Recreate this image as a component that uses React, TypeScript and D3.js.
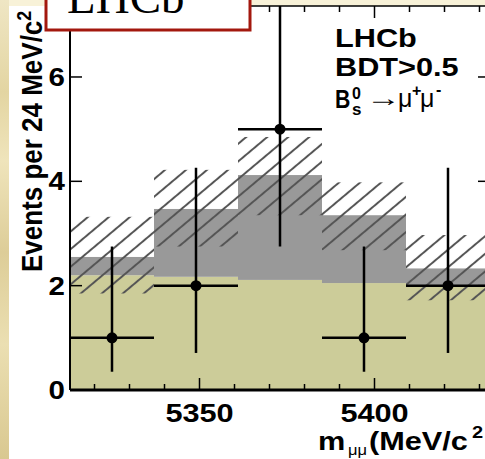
import React from "react";
import * as d3 from "d3";

// ---- data ----
const binEdges = [5313, 5337, 5361, 5385, 5409, 5433];
const backgroundYield = [2.2, 2.17, 2.11, 2.05, 2.01];
const totalYield = [2.55, 3.47, 4.12, 3.35, 2.33];
const bandLow = [1.85, 2.75, 3.35, 2.68, 1.72];
const bandHigh = [3.32, 4.22, 4.85, 3.98, 2.97];
const observed = [1, 2, 5, 1, 2];
const observedLow = [0.35, 0.71, 2.75, 0.35, 0.71];
const observedHigh = [2.75, 4.26, 8.4, 2.75, 4.26];
const xMajorTicks = [5350, 5400];
const xMinorTicks = [5320, 5330, 5340, 5360, 5370, 5380, 5390, 5410, 5420, 5430];
const yMajorTicks = [0, 2, 4, 6];

const W = 485;
const H = 459;
const SX = 1.18; // horizontal stretch of the reference text
const FONT = "'Liberation Sans', Arial, Helvetica, sans-serif";

function T({ x, y, size = 25, anchor = "start", weight = "bold", sx = SX, family = FONT, children }: any) {
  return (
    <text
      transform={`translate(${x},${y}) scale(${sx},1)`}
      textAnchor={anchor}
      fontFamily={family}
      fontWeight={weight}
      fontSize={size}
      fill="#000"
    >
      {children}
    </text>
  );
}

export default function App() {
  const left = 70;
  const right = 490;
  const top = 6;
  const bottom = 390;
  const x = d3.scaleLinear().domain([binEdges[0], binEdges[binEdges.length - 1]]).range([left, right]);
  const y = d3.scaleLinear().domain([0, (bottom - top) / 52.17]).range([bottom, top]);
  const bins = d3.range(observed.length);

  return (
    <svg
      width={W}
      height={H}
      style={{ position: "absolute", left: 0, top: 0, display: "block" }}
      xmlns="http://www.w3.org/2000/svg"
    >
      <defs>
        <linearGradient id="parch" x1="0" y1="0" x2="0" y2="1">
          <stop offset="0" stopColor="#efe6c4" />
          <stop offset="0.2" stopColor="#e3d5a2" />
          <stop offset="0.35" stopColor="#efe4bb" />
          <stop offset="0.55" stopColor="#ddcd98" />
          <stop offset="0.75" stopColor="#ebdfb2" />
          <stop offset="1" stopColor="#d9c890" />
        </linearGradient>
        <pattern
          id="hatch"
          patternUnits="userSpaceOnUse"
          width={10}
          height={13.5}
          patternTransform="rotate(-40)"
        >
          <line x1={-1} y1={6.75} x2={11} y2={6.75} stroke="#555" strokeWidth={2} />
        </pattern>
        <clipPath id="plotClip">
          <rect x={left} y={top} width={right - left} height={bottom - top} />
        </clipPath>
      </defs>

      {/* page background */}
      <rect x={0} y={0} width={W} height={H} fill="#fff" />
      <rect x={0} y={0} width={W} height={top} fill="#f8f2d8" />
      <rect x={0} y={0} width={9} height={H} fill="url(#parch)" />

      <g clipPath="url(#plotClip)">
        {/* background component */}
        {bins.map((i) => (
          <rect
            key={"bg" + i}
            x={x(binEdges[i])}
            y={y(backgroundYield[i])}
            width={x(binEdges[i + 1]) - x(binEdges[i])}
            height={y(0) - y(backgroundYield[i])}
            fill="#cccc99"
          />
        ))}
        {/* signal on top */}
        {bins.map((i) => (
          <rect
            key={"sig" + i}
            x={x(binEdges[i])}
            y={y(totalYield[i])}
            width={x(binEdges[i + 1]) - x(binEdges[i])}
            height={y(backgroundYield[i]) - y(totalYield[i])}
            fill="#999999"
          />
        ))}
        {/* uncertainty band */}
        {bins.map((i) => (
          <rect
            key={"band" + i}
            x={x(binEdges[i])}
            y={y(bandHigh[i])}
            width={x(binEdges[i + 1]) - x(binEdges[i])}
            height={y(bandLow[i]) - y(bandHigh[i])}
            fill="url(#hatch)"
          />
        ))}
        {/* data points */}
        {bins.map((i) => {
          const cx = x((binEdges[i] + binEdges[i + 1]) / 2);
          return (
            <g key={"pt" + i} stroke="#000" strokeWidth={2.5}>
              <line x1={x(binEdges[i])} x2={x(binEdges[i + 1])} y1={y(observed[i])} y2={y(observed[i])} />
              <line x1={cx} x2={cx} y1={y(observedLow[i])} y2={y(observedHigh[i])} />
              <circle cx={cx} cy={y(observed[i])} r={5.5} fill="#000" stroke="none" />
            </g>
          );
        })}
      </g>

      {/* frame */}
      <g stroke="#000" fill="none">
        <line x1={left} x2={left} y1={top} y2={bottom} strokeWidth={2} />
        <line x1={left} x2={right} y1={bottom} y2={bottom} strokeWidth={3} />
        <line x1={left} x2={right} y1={top} y2={top} strokeWidth={1.5} />
        <line x1={right} x2={right} y1={top} y2={bottom} strokeWidth={2} />
        {yMajorTicks.map((v) => (
          <g key={"yt" + v}>
            <line x1={left} x2={left + 12} y1={y(v)} y2={y(v)} strokeWidth={1.5} />
            <line x1={right} x2={right - 12} y1={y(v)} y2={y(v)} strokeWidth={1.5} />
          </g>
        ))}
        {xMajorTicks.map((v) => (
          <g key={"xt" + v}>
            <line x1={x(v)} x2={x(v)} y1={bottom} y2={bottom - 12} strokeWidth={1.5} />
            <line x1={x(v)} x2={x(v)} y1={top} y2={top + 12} strokeWidth={1.5} />
          </g>
        ))}
        {xMinorTicks.map((v) => (
          <g key={"xm" + v}>
            <line x1={x(v)} x2={x(v)} y1={bottom} y2={bottom - 6} strokeWidth={1.5} />
            <line x1={x(v)} x2={x(v)} y1={top} y2={top + 6} strokeWidth={1.5} />
          </g>
        ))}
      </g>

      {/* tick labels */}
      {yMajorTicks.map((v) => (
        <T key={"yl" + v} x={left - 5} y={y(v) + 9} anchor="end">
          {d3.format("d")(v)}
        </T>
      ))}
      {xMajorTicks.map((v) => (
        <T key={"xl" + v} x={x(v)} y={422} anchor="middle" size={26}>
          {d3.format("d")(v)}
        </T>
      ))}

      {/* x axis title */}
      <T x={318} y={450} size={26}>
        m
      </T>
      <T x={348} y={455} size={15} weight="normal" sx={1.1}>
        μμ
      </T>
      <T x={369} y={450} size={26}>
        (MeV/c
      </T>
      <T x={472} y={438} size={17}>
        2
      </T>

      {/* y axis title */}
      <text
        transform={`translate(42,272) scale(1.15,1) rotate(-90)`}
        fontFamily={FONT}
        fontWeight="bold"
        fontSize={26}
      >
        Events per 24 MeV/c
        <tspan dy={-10} fontSize={18}>
          2
        </tspan>
      </text>

      {/* legend text */}
      <T x={335} y={47} size={26}>LHCb</T>
      <T x={335} y={76} size={26}>BDT&gt;0.5</T>
      <T x={335} y={108} sx={0.85}>B</T>
      <T x={352} y={99} size={16} sx={1}>0</T>
      <T x={352} y={115} size={17} sx={1}>s</T>
      <T x={366} y={106} size={24} weight="normal" sx={1.45}>
        →
      </T>
      <T x={398} y={107} size={25} weight="normal" sx={1}>
        μ
      </T>
      <T x={412} y={96} size={16} sx={1}>+</T>
      <T x={420} y={107} size={25} weight="normal" sx={1}>
        μ
      </T>
      <T x={436} y={95} size={16} sx={1}>-</T>

      {/* LHCb box */}
      <rect x={46} y={-10} width={204} height={40} fill="#fff" stroke="#a3180e" strokeWidth={3} />
      <text
        x={67}
        y={13}
        fontFamily="'Liberation Serif', 'Times New Roman', serif"
        fontSize={47}
        fill="#000"
      >
        LHCb
      </text>
    </svg>
  );
}
